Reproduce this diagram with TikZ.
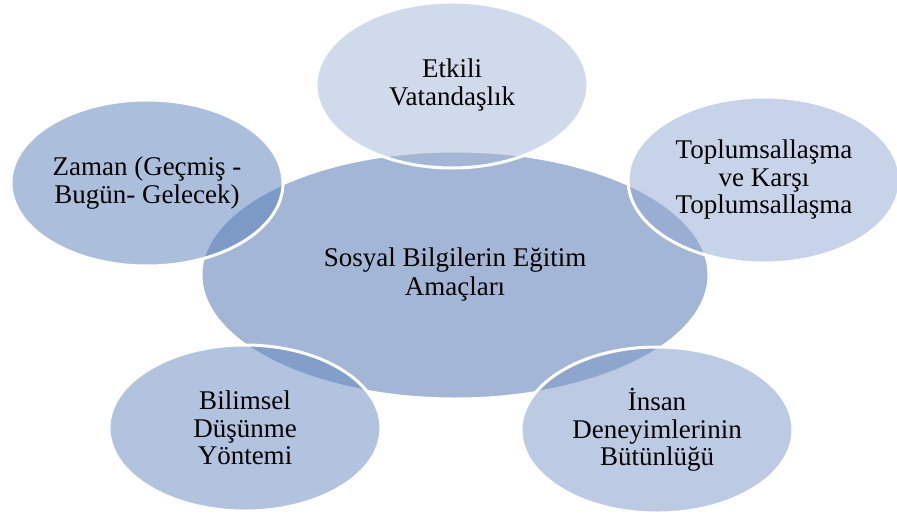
\documentclass[tikz,border=0pt]{standalone}
\usepackage{fontspec}
\setmainfont{Liberation Serif}
\usetikzlibrary{shapes.geometric}
\definecolor{merkez}{RGB}{164,182,213}
\definecolor{renkA}{RGB}{164,182,213}
\definecolor{renkB}{RGB}{143,167,209}
\definecolor{renkC}{RGB}{121,151,199}
\definecolor{renkD}{RGB}{99,135,191}
\definecolor{renkE}{RGB}{87,127,187}
\tikzset{
  ana/.style={ellipse, draw=white, line width=3pt, fill=merkez, inner sep=0pt,
    minimum width=508pt, minimum height=248pt, align=center,
    font=\fontsize{27}{29}\selectfont},
  uydu/.style={ellipse, draw=white, line width=3pt, fill=#1, fill opacity=0.5,
    text opacity=1, inner sep=0pt, minimum width=272pt, minimum height=166pt,
    align=center, font=\fontsize{27}{27.5}\selectfont}
}
\begin{document}
\begin{tikzpicture}[x=1pt, y=-1pt]
    \useasboundingbox (0,0) rectangle (897,517);
    % Merkez
    \node[ana] (amac) at (455,275) {Sosyal Bilgilerin Eğitim\\Amaçları};
    % Uydular
    \node[uydu=renkA] (etkili) at (452,85) {Etkili\\Vatandaşlık};
    \node[uydu=renkB] (toplum) at (764,180) {Toplumsallaşma\\ve Karşı\\Toplumsallaşma};
    \node[uydu=renkC] (insan) at (657,430) {İnsan\\Deneyimlerinin\\Bütünlüğü};
    \node[uydu=renkD] (bilim) at (245,428) {Bilimsel\\Düşünme\\Yöntemi};
    \node[uydu=renkE] (zaman) at (147,183) {Zaman (Geçmiş -\\Bugün- Gelecek)};
\end{tikzpicture}
\end{document}
